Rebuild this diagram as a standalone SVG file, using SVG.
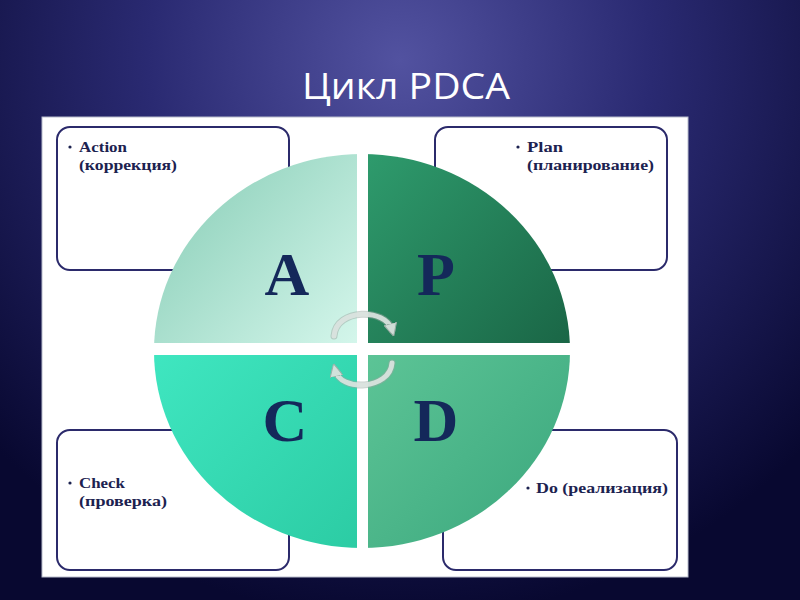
<svg xmlns="http://www.w3.org/2000/svg" width="800" height="600" viewBox="0 0 800 600">
<defs>
<radialGradient id="bg" cx="400" cy="60" r="560" gradientUnits="userSpaceOnUse">
<stop offset="0" stop-color="#5252a0"/>
<stop offset="0.45" stop-color="#2a2a72"/>
<stop offset="1" stop-color="#080830"/>
</radialGradient>
<linearGradient id="gA" x1="155" y1="160" x2="357" y2="343" gradientUnits="userSpaceOnUse">
<stop offset="0" stop-color="#86ccb5"/>
<stop offset="1" stop-color="#d4f6eb"/>
</linearGradient>
<linearGradient id="gP" x1="368" y1="160" x2="570" y2="343" gradientUnits="userSpaceOnUse">
<stop offset="0" stop-color="#2e9a6c"/>
<stop offset="1" stop-color="#1a6646"/>
</linearGradient>
<linearGradient id="gC" x1="155" y1="355" x2="357" y2="548" gradientUnits="userSpaceOnUse">
<stop offset="0" stop-color="#3fe6c0"/>
<stop offset="1" stop-color="#2ccca4"/>
</linearGradient>
<linearGradient id="gD" x1="368" y1="355" x2="570" y2="548" gradientUnits="userSpaceOnUse">
<stop offset="0" stop-color="#5cc496"/>
<stop offset="1" stop-color="#3aa67c"/>
</linearGradient>
<clipPath id="circ"><ellipse cx="362" cy="351" rx="208" ry="197"/></clipPath>
<marker id="ah" viewBox="0 0 10 10" refX="5" refY="5" markerWidth="2.6" markerHeight="2.6" orient="auto" markerUnits="strokeWidth">
<path d="M0,0 L10,5 L0,10 Z" fill="#dde5e1" stroke="#a3b0aa" stroke-width="0.8"/>
</marker>
</defs>
<style>
.box{fill:none;stroke:#2b2a6b;stroke-width:2}
.lbl{font-family:"Liberation Serif","Times New Roman",serif;font-weight:bold;font-size:15px;fill:#1c2250}
.dot{fill:#1c2250}
.big{font-family:"Liberation Serif","Times New Roman",serif;font-weight:bold;font-size:62px;fill:#14285a;text-anchor:middle}
.arc{fill:none;stroke:#dde5e1;stroke-width:5;stroke-linecap:round;opacity:0.9}
.arcs{fill:none;stroke:#9aa8a2;stroke-width:7;stroke-linecap:round;opacity:0.5}
</style>
<rect x="0" y="0" width="800" height="600" fill="url(#bg)"/>
<text x="406" y="99" font-family="'Open Sans','Liberation Sans',sans-serif" font-size="36" fill="#ffffff" text-anchor="middle" textLength="208" lengthAdjust="spacingAndGlyphs">Цикл PDCA</text>
<rect x="42" y="117" width="646" height="460" fill="#ffffff" stroke="#b8bccc" stroke-width="1"/>

<g id="box-action"><rect class="box" x="57" y="127" width="232" height="143" rx="13"/>
<circle class="dot" cx="70" cy="147" r="1.6"/>
<text class="lbl" x="79" y="152" textLength="48" lengthAdjust="spacingAndGlyphs">Action</text>
<text class="lbl" x="79" y="170" textLength="98" lengthAdjust="spacingAndGlyphs">(коррекция)</text></g>
<g id="box-plan"><rect class="box" x="435" y="127" width="232" height="143" rx="13"/>
<circle class="dot" cx="518" cy="147" r="1.6"/>
<text class="lbl" x="527" y="152" textLength="36" lengthAdjust="spacingAndGlyphs">Plan</text>
<text class="lbl" x="527" y="170" textLength="127" lengthAdjust="spacingAndGlyphs">(планирование)</text></g>
<g id="box-check"><rect class="box" x="57" y="430" width="232" height="140" rx="13"/>
<circle class="dot" cx="70" cy="483" r="1.6"/>
<text class="lbl" x="79" y="488" textLength="46" lengthAdjust="spacingAndGlyphs">Check</text>
<text class="lbl" x="79" y="506" textLength="88" lengthAdjust="spacingAndGlyphs">(проверка)</text></g>
<g id="box-do"><rect class="box" x="443" y="430" width="234" height="140" rx="13"/>
<circle class="dot" cx="528" cy="488" r="1.6"/>
<text class="lbl" x="536" y="493" textLength="132" lengthAdjust="spacingAndGlyphs">Do (реализация)</text></g>

<g id="circle" clip-path="url(#circ)">
<rect id="qA" x="150" y="150" width="207" height="193" fill="url(#gA)"/>
<rect id="qP" x="368" y="150" width="210" height="193" fill="url(#gP)"/>
<rect id="qC" x="150" y="355" width="207" height="200" fill="url(#gC)"/>
<rect id="qD" x="368" y="355" width="210" height="200" fill="url(#gD)"/>
</g>
<g id="letters">
<text class="big" x="287" y="295">A</text>
<text class="big" x="436" y="295">P</text>
<text class="big" x="285" y="441">C</text>
<text class="big" x="436" y="441">D</text>
</g>
<g id="connectors">
<path class="arcs" d="M334,336 C336,308 386,308 392,330"/>
<path class="arc" d="M334,336 C336,308 386,308 392,330" marker-end="url(#ah)"/>
<path class="arcs" d="M392,363 C390,390 340,392 335,370"/>
<path class="arc" d="M392,363 C390,390 340,392 335,370" marker-end="url(#ah)"/>
</g>
</svg>
